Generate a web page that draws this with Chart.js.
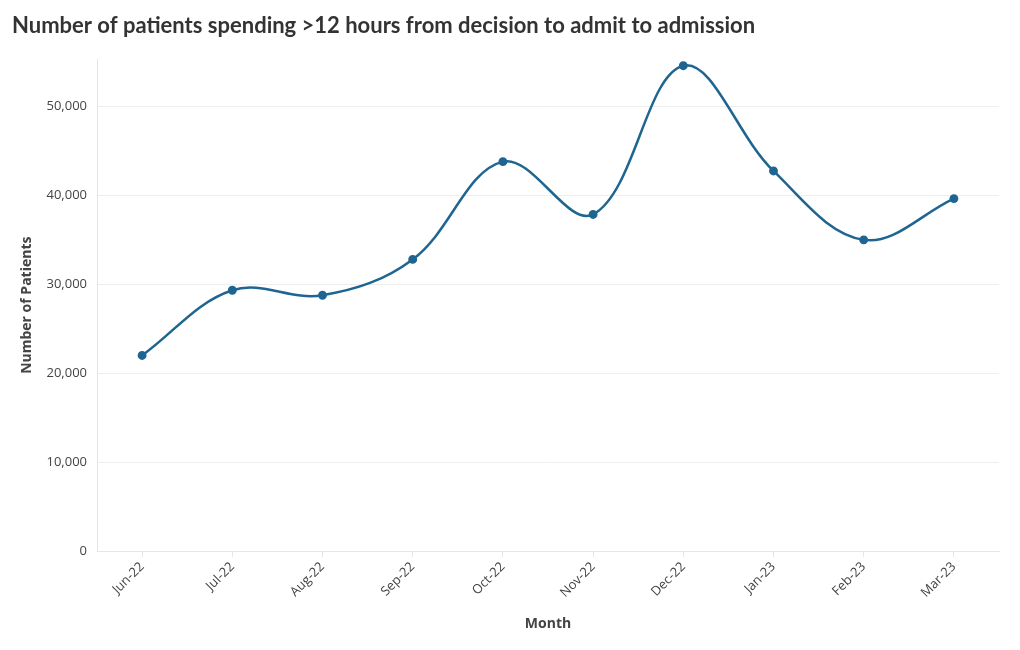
<!DOCTYPE html>
<html>
<head>
<meta charset="utf-8">
<script src="https://cdn.jsdelivr.net/npm/chart.js@4.4.0/dist/chart.umd.min.js"></script>
<style>
  html, body { margin: 0; padding: 0; background: #fff; }
  #wrap { width: 1020px; height: 650px; position: relative; }
</style>
</head>
<body>
<div id="wrap"><canvas id="c"></canvas></div>
<script>
const months = ['Jun-22','Jul-22','Aug-22','Sep-22','Oct-22','Nov-22','Dec-22','Jan-23','Feb-23','Mar-23'];
const patients = [22000, 29330, 28770, 32800, 43800, 37860, 54590, 42750, 35000, 39640];
const yTickValues = [0, 10000, 20000, 30000, 40000, 50000];

const FONT = '"Open Sans", Lato, sans-serif';
const TITLE_FONT = 'Lato, "Open Sans", sans-serif';
const lineColor = '#1e6591';

new Chart(document.getElementById('c'), {
  type: 'line',
  data: {
    labels: months,
    datasets: [{
      label: 'Number of Patients',
      data: patients,
      borderColor: lineColor,
      backgroundColor: lineColor,
      borderWidth: 2.5,
      pointRadius: 3.2,
      pointHoverRadius: 3.2,
      tension: 0.37,
      fill: false
    }]
  },
  options: {
    responsive: true,
    maintainAspectRatio: false,
    animation: false,
    layout: { padding: { left: 12, right: 21, top: 0, bottom: 18 } },
    plugins: {
      legend: { display: false },
      tooltip: { enabled: false },
      title: {
        display: true,
        text: 'Number of patients spending >12 hours from decision to admit to admission',
        align: 'start',
        color: '#333333',
        font: { family: TITLE_FONT, size: 22, weight: 'bold' },
        padding: { top: 13, bottom: 20 }
      }
    },
    scales: {
      x: {
        offset: true,
        grid: { display: true, drawOnChartArea: false, drawTicks: true, tickLength: 6, color: '#e6e6e6' },
        border: { display: true, color: '#e6e6e6' },
        ticks: {
          color: '#444444',
          font: { family: FONT, size: 13 },
          maxRotation: 45, minRotation: 45,
          padding: 2
        },
        title: {
          display: true, text: 'Month', color: '#444444',
          font: { family: FONT, size: 14, weight: 'bold' },
          padding: { top: 0, bottom: 0 }
        },
        afterFit: (s) => { s.height = 650 - 18 - 551; }
      },
      y: {
        min: 0,
        max: 55300,
        grid: { color: '#eeeeee', drawTicks: false },
        border: { display: true, color: '#e6e6e6' },
        ticks: {
          color: '#444444',
          font: { family: FONT, size: 13 },
          padding: 10,
          stepSize: 10000,
          callback: (v) => v.toLocaleString('en-US')
        },
        afterBuildTicks: (s) => { s.ticks = yTickValues.map(v => ({ value: v })); },
        title: {
          display: true, text: 'Number of Patients', color: '#444444',
          font: { family: FONT, size: 14, weight: 'bold' },
          padding: { top: 7, bottom: 0 }
        },
        afterFit: (s) => { s.width = 97 - 12; }
      }
    }
  }
});
</script>
</body>
</html>
